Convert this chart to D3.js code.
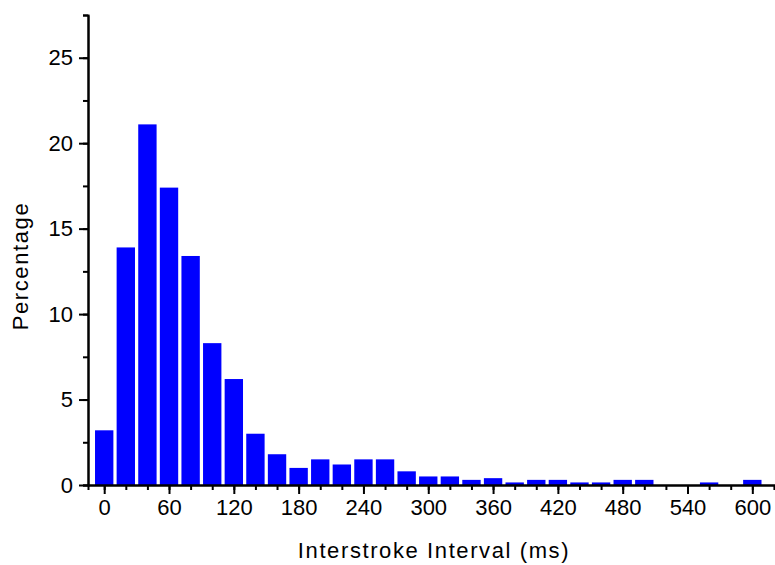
<!DOCTYPE html>
<html>
<head>
<meta charset="utf-8">
<script src="https://cdn.jsdelivr.net/npm/d3@7"></script>
<style>
  body { margin: 0; background: #fff; }
  text { font-family: "Liberation Sans", Arial, sans-serif; fill: #000; }
</style>
</head>
<body>
<div id="chart"></div>
<script>
// Bin centres (ms) and percentage in each bin
var binCenters = [0, 20, 40, 60, 80, 100, 120, 140, 160, 180, 200, 220, 240, 260, 280, 300,
  320, 340, 360, 380, 400, 420, 440, 460, 480, 500, 520, 540, 560, 580, 600];
var percentages = [3.2, 13.9, 21.1, 17.4, 13.4, 8.3, 6.2, 3.0, 1.8, 1.0, 1.5, 1.2, 1.5, 1.5, 0.8, 0.5,
  0.5, 0.3, 0.4, 0.15, 0.3, 0.3, 0.15, 0.15, 0.3, 0.3, 0, 0, 0.15, 0, 0.3];

// Tick values
var xMajorTicks = [0, 60, 120, 180, 240, 300, 360, 420, 480, 540, 600];
var yMajorTicks = [0, 5, 10, 15, 20, 25];

var svgWidth = 775;
var svgHeight = 565;

var margin = { top: 15, right: 0, bottom: 80, left: 88 };
var chartWidth = svgWidth - margin.left - margin.right;
var chartHeight = svgHeight - margin.top - margin.bottom;

var svg = d3.select("#chart")
  .append("svg")
  .attr("width", svgWidth)
  .attr("height", svgHeight);

var chartGroup = svg.append("g")
  .attr("transform", `translate(${margin.left}, ${margin.top})`);

// Scales
var xScale = d3.scaleLinear()
  .domain([-15, 621])
  .range([0, chartWidth]);

var yScale = d3.scaleLinear()
  .domain([0, 27.5])
  .range([chartHeight, 0]);

var data = binCenters.map(function(c, i) {
  return { center: c, value: percentages[i] };
});

// Bars (width 17 units of the 20 unit bin)
chartGroup.selectAll("rect.bar")
  .data(data.filter(d => d.value > 0))
  .enter()
  .append("rect")
  .attr("class", "bar")
  .attr("x", d => xScale(d.center - 8.5))
  .attr("width", d => xScale(d.center + 8.5) - xScale(d.center - 8.5))
  .attr("y", d => yScale(d.value))
  .attr("height", d => chartHeight - yScale(d.value))
  .attr("fill", "#0000ff");

// Minor ticks
var xMinor = d3.axisBottom(xScale)
  .tickValues(d3.range(0, 621, 20))
  .tickSize(5)
  .tickFormat("");

var yMinor = d3.axisLeft(yScale)
  .tickValues(d3.range(0, 27.6, 2.5))
  .tickSize(5)
  .tickFormat("");

chartGroup.append("g")
  .attr("class", "axis")
  .attr("transform", `translate(0, ${chartHeight})`)
  .call(xMinor);

chartGroup.append("g")
  .attr("class", "axis")
  .call(yMinor);

// Major ticks with labels
var bottomAxis = d3.axisBottom(xScale)
  .tickValues(xMajorTicks)
  .tickSize(9)
  .tickPadding(5)
  .tickSizeOuter(0);

var leftAxis = d3.axisLeft(yScale)
  .tickValues(yMajorTicks)
  .tickSize(9)
  .tickPadding(6)
  .tickSizeOuter(0);

chartGroup.append("g")
  .attr("class", "axis")
  .attr("transform", `translate(0, ${chartHeight})`)
  .call(bottomAxis);

chartGroup.append("g")
  .attr("class", "axis")
  .call(leftAxis);

chartGroup.selectAll(".axis path, .axis line")
  .attr("stroke", "#000")
  .attr("stroke-width", 2);

chartGroup.selectAll(".axis text")
  .style("font-family", "'Liberation Sans', Arial, sans-serif")
  .style("font-size", "22px")
  .attr("fill", "#000");

// Axis titles
svg.append("text")
  .attr("x", 434)
  .attr("y", 558)
  .style("text-anchor", "middle")
  .style("font-size", "22px")
  .style("letter-spacing", "1.6px")
  .text("Interstroke Interval (ms)");

svg.append("text")
  .attr("transform", "translate(28, 266) rotate(-90)")
  .style("text-anchor", "middle")
  .style("font-size", "22px")
  .style("letter-spacing", "1.6px")
  .text("Percentage");
</script>
</body>
</html>
